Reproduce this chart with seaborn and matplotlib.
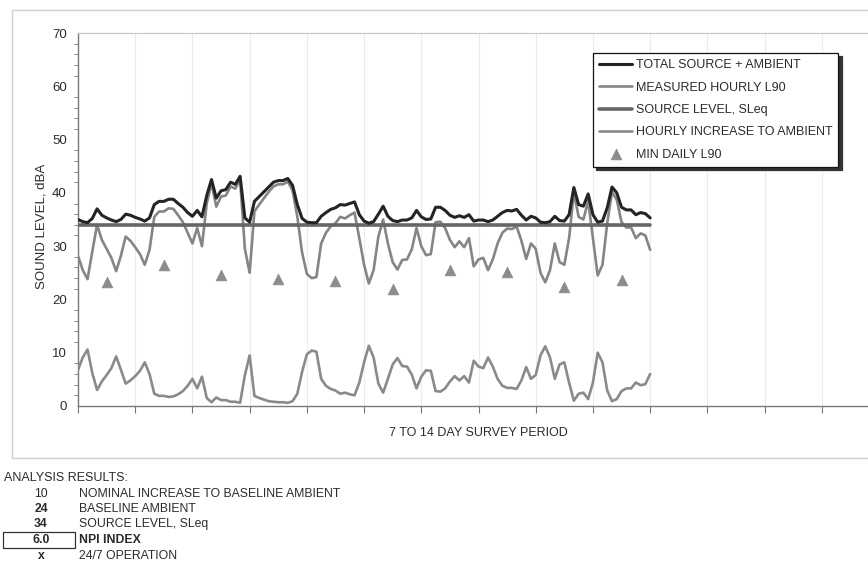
import matplotlib
matplotlib.use("Agg")
import matplotlib.pyplot as plt
import seaborn as sns
import pandas as pd
from matplotlib.patches import Rectangle
from matplotlib.ticker import MultipleLocator

# ---------------- data ----------------
HOURS = list(range(0, 241, 2))

MEASURED_L90 = [
    28.2, 25.5, 23.8, 29.0, 34.0, 31.2, 29.5, 27.8, 25.3, 28.2,
    31.8, 31.0, 29.8, 28.5, 26.5, 29.3, 35.5, 36.5, 36.5, 37.1,
    37.0, 35.8, 34.5, 32.5, 30.5, 33.4, 30.0, 38.0, 41.8, 37.4,
    39.3, 39.5, 41.2, 40.8, 42.5, 29.5, 25.0, 36.5, 37.8, 39.0,
    40.2, 41.2, 41.6, 41.6, 42.1, 40.5, 35.5, 28.8, 24.8, 24.0,
    24.2, 30.5, 32.5, 33.7, 34.3, 35.5, 35.2, 35.8, 36.3, 31.5,
    26.5, 23.0, 25.5, 31.8, 35.0, 30.5, 27.0, 25.6, 27.4, 27.5,
    29.4, 33.4, 30.0, 28.3, 28.5, 34.5, 34.6, 33.4, 31.2, 29.8,
    30.9, 29.8, 31.5, 26.2, 27.5, 27.8, 25.5, 27.5, 30.5, 32.5,
    33.3, 33.2, 33.7, 31.0, 27.6, 30.5, 29.5, 25.0, 23.2, 25.5,
    30.5, 27.0, 26.5, 31.5, 40.0, 35.5, 35.0, 38.5, 31.5, 24.5,
    26.5, 34.3, 40.2, 38.7, 34.5, 33.5, 33.5, 31.5, 32.4, 32.0,
    29.3,
]

TOTAL_SOURCE_AMBIENT = [
    35.0, 34.6, 34.4, 35.2, 37.0, 35.8, 35.3, 34.9, 34.6, 35.0,
    36.0, 35.8, 35.4, 35.1, 34.7, 35.3, 37.8, 38.4, 38.4, 38.8,
    38.8, 38.0, 37.3, 36.3, 35.6, 36.7, 35.5, 39.5, 42.5, 39.0,
    40.4, 40.6, 42.0, 41.6, 43.1, 35.3, 34.5, 38.4, 39.3, 40.2,
    41.1, 42.0, 42.3, 42.3, 42.7, 41.4, 37.8, 35.2, 34.5, 34.4,
    34.4, 35.6, 36.3, 36.9, 37.2, 37.8, 37.7, 38.0, 38.3, 35.9,
    34.7, 34.3, 34.6, 36.0, 37.5, 35.6, 34.8, 34.6, 34.9, 34.9,
    35.3, 36.7, 35.5, 35.0, 35.1, 37.3, 37.3, 36.7, 35.8, 35.4,
    35.7, 35.4, 35.9, 34.7, 34.9, 34.9, 34.6, 34.9, 35.6, 36.3,
    36.7, 36.6, 36.9, 35.8, 34.9, 35.6, 35.3, 34.5, 34.4, 34.6,
    35.6, 34.8, 34.7, 35.9, 41.0, 37.8, 37.5, 39.8, 35.9, 34.5,
    34.7, 37.2, 41.1, 40.0, 37.3, 36.8, 36.8, 35.9, 36.3, 36.1,
    35.3,
]

HOURLY_INCREASE = [
    6.8, 9.1, 10.6, 6.2, 3.0, 4.6, 5.8, 7.1, 9.3, 6.8,
    4.2, 4.8, 5.6, 6.6, 8.2, 6.0, 2.3, 1.9, 1.9, 1.7,
    1.8, 2.2, 2.8, 3.8, 5.1, 3.3, 5.5, 1.5, 0.7, 1.6,
    1.1, 1.1, 0.8, 0.8, 0.6, 5.8, 9.5, 1.9, 1.5, 1.2,
    0.9, 0.8, 0.7, 0.7, 0.6, 0.9, 2.3, 6.4, 9.7, 10.4,
    10.2, 5.1, 3.8, 3.2, 2.9, 2.3, 2.5, 2.2, 2.0, 4.4,
    8.2, 11.3, 9.1, 4.2, 2.5, 5.1, 7.8, 9.0, 7.5, 7.4,
    5.9, 3.3, 5.5, 6.7, 6.6, 2.8, 2.7, 3.3, 4.6, 5.6,
    4.8, 5.6, 4.4, 8.5, 7.4, 7.1, 9.1, 7.4, 5.1, 3.8,
    3.4, 3.4, 3.2, 4.8, 7.3, 5.1, 5.8, 9.5, 11.2, 9.1,
    5.1, 7.8, 8.2, 4.4, 1.0, 2.3, 2.5, 1.3, 4.4, 10.0,
    8.2, 2.9, 0.9, 1.3, 2.8, 3.3, 3.3, 4.4, 3.9, 4.1,
    6.0,
]

SOURCE_LEVEL = 34

MIN_DAILY_HOURS = [12, 36, 60, 84, 108, 132, 156, 180, 204, 228]
MIN_DAILY_L90 = [23.3, 26.5, 24.5, 23.8, 23.5, 22.0, 25.5, 25.1, 22.4, 23.7]

LEGEND_LABELS = ["TOTAL SOURCE + AMBIENT", "MEASURED HOURLY L90",
                 "SOURCE LEVEL, SLeq", "HOURLY INCREASE TO AMBIENT",
                 "MIN DAILY L90"]

Y_TICKS = [0, 10, 20, 30, 40, 50, 60, 70]

RESULT_VALUES = ["10", "24", "34", "6.0", "x"]
RESULT_TEXTS = ["NOMINAL INCREASE TO BASELINE AMBIENT", "BASELINE AMBIENT",
                "SOURCE LEVEL, SLeq", "NPI INDEX", "24/7 OPERATION"]
RESULT_BOLD = [False, True, True, True, True]

# ---------------- styling ----------------
sns.set_style("white")
FONT = ["Liberation Sans", "DejaVu Sans"]
plt.rcParams["font.family"] = FONT
TXT = "#2b2b2b"

W, H = 868, 576
fig = plt.figure(figsize=(W / 100, H / 100), dpi=100)


def fx(px):
    return px / W


def fy(py):
    return 1 - py / H


# outer chart frame
fig.patches.append(Rectangle((fx(12), fy(458)), 1.2, fy(10) - fy(458),
                             transform=fig.transFigure, fill=False,
                             edgecolor="#cfcfcf", lw=1.0))

ax = fig.add_axes([fx(78), fy(406), fx(879) - fx(78), fy(33) - fy(406)])
ax.set_facecolor("white")

df = pd.DataFrame({"hour": HOURS, "l90": MEASURED_L90,
                   "total": TOTAL_SOURCE_AMBIENT, "inc": HOURLY_INCREASE,
                   "src": [SOURCE_LEVEL] * len(HOURS)})
mins = pd.DataFrame({"hour": MIN_DAILY_HOURS, "l90": MIN_DAILY_L90})

sns.lineplot(data=df, x="hour", y="l90", ax=ax, color="#858585", lw=1.9,
             label=LEGEND_LABELS[1], zorder=3)
sns.lineplot(data=df, x="hour", y="inc", ax=ax, color="#8a8a8a", lw=1.9,
             label=LEGEND_LABELS[3], zorder=3)
sns.lineplot(data=df, x="hour", y="src", ax=ax, color="#666666", lw=2.6,
             label=LEGEND_LABELS[2], zorder=4)
sns.lineplot(data=df, x="hour", y="total", ax=ax, color="#242424", lw=2.2,
             label=LEGEND_LABELS[0], zorder=5)
sns.scatterplot(data=mins, x="hour", y="l90", ax=ax, marker="^", s=60,
                color="#8c8c8c", edgecolor="#8c8c8c", linewidth=0.5,
                label=LEGEND_LABELS[4], zorder=6)

ax.set_xlim(0, 336)
ax.set_ylim(0, 70)
ax.xaxis.set_major_locator(MultipleLocator(24))
ax.set_xticklabels([])
ax.set_yticks(Y_TICKS)
ax.yaxis.set_minor_locator(MultipleLocator(2))
ax.tick_params(axis="y", which="major", direction="out", length=5,
               width=0.8, color="#777777", labelsize=9.5, labelcolor=TXT, pad=3)
ax.tick_params(axis="y", which="minor", direction="out", length=3,
               width=0.7, color="#888888", left=True)
ax.tick_params(axis="x", which="major", direction="out", length=5,
               width=0.8, color="#777777", bottom=True)
ax.grid(axis="x", color="#ececec", lw=0.8)
ax.grid(axis="y", visible=False)
for side in ("left", "bottom"):
    ax.spines[side].set_color("#7a7a7a")
    ax.spines[side].set_linewidth(1.0)
ax.spines["top"].set_color("#c4c4c4")
ax.spines["top"].set_linewidth(0.8)
ax.spines["right"].set_visible(False)
ax.set_xlabel("")
ax.set_ylabel("")

# legend in reference order
handles, labels = ax.get_legend_handles_labels()
order = [labels.index(l) for l in LEGEND_LABELS]
leg = ax.legend([handles[i] for i in order], [labels[i] for i in order],
                loc="upper left", bbox_to_anchor=((593 - 78) / 801, (406 - 53) / 373),
                frameon=True, fancybox=False, edgecolor="#111111",
                framealpha=1, shadow={"ox": 2.5, "oy": -2.5, "color": "#333333", "alpha": 1},
                fontsize=9, handlelength=2.6, handletextpad=0.3,
                labelspacing=0.83, borderpad=0.5, borderaxespad=0)
leg.get_frame().set_linewidth(0.9)
for t in leg.get_texts():
    t.set_color(TXT)

# axis titles
fig.text(fx(41), fy(226), "SOUND LEVEL, dBA", rotation=90, ha="center",
         va="center", fontsize=9.5, color=TXT)
fig.text(fx(478), fy(433), "7 TO 14 DAY SURVEY PERIOD", ha="center",
         va="center", fontsize=9, color=TXT)

# analysis results block
fig.text(fx(4), fy(478), "ANALYSIS RESULTS:", ha="left", va="center",
         fontsize=9, color=TXT)
row_y = [494, 509, 524, 540, 556]
for val, txt, bold, yy in zip(RESULT_VALUES, RESULT_TEXTS, RESULT_BOLD, row_y):
    fig.text(fx(41), fy(yy), val, ha="center", va="center", fontsize=8.8,
             color=TXT, fontweight="bold" if bold else "normal")
    fig.text(fx(79), fy(yy), txt, ha="left", va="center", fontsize=8.8,
             color=TXT, fontweight="bold" if txt == "NPI INDEX" else "normal")
fig.patches.append(Rectangle((fx(3), fy(548)), fx(75) - fx(3), fy(532) - fy(548),
                             transform=fig.transFigure, fill=False,
                             edgecolor="#333333", lw=0.9))

fig.savefig("out.png", dpi=100)
